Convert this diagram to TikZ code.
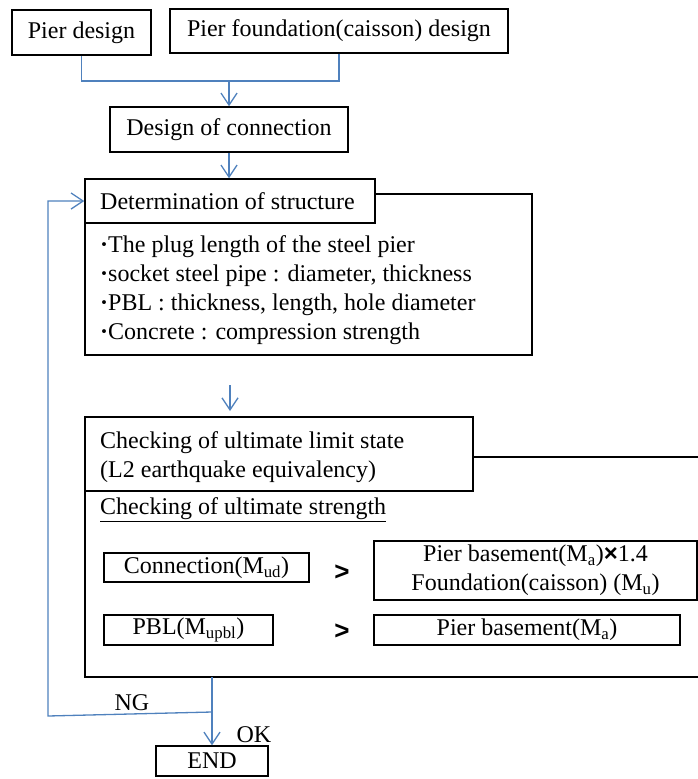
\documentclass[tikz,border=0pt]{standalone}
\usepackage{fontspec}
\setmainfont{Liberation Serif}
\newfontfamily\sansf{Liberation Sans}
\usetikzlibrary{arrows.meta}
\definecolor{flowblue}{HTML}{4F81BD}
\begin{document}
\begin{tikzpicture}[x=1pt,y=-1pt,
  every node/.style={font=\fontsize{24}{29}\selectfont},
  box/.style={draw=black,line width=1.5pt,inner sep=0pt,fill=white},
  bline/.style={draw=flowblue,line width=1.3pt},
  barrow/.style={bline,-{Straight Barb[length=12pt,width=16pt,line width=1.3pt]}},
  gtsym/.style={font=\fontsize{26}{29}\sansf\bfseries}]
\useasboundingbox (0,0) rectangle (698,779);
% top boxes
\node[box,minimum width=139pt,minimum height=45pt] (pd) at (81.5,32.5) {Pier design};
\node[box,minimum width=338pt,minimum height=44pt] (pf) at (339,31) {Pier foundation(caisson) design};
\coordinate (m) at (229,81);
\node[box,minimum width=238pt,minimum height=45pt] (dc) at (229,129.5) {Design of connection};
% structure
\node[box,minimum width=447pt,minimum height=161pt] (sout) at (308.5,274.5) {};
\node[box,minimum width=290pt,minimum height=44pt] (dsh) at (230,201) {};
\node[anchor=west,inner sep=0pt] (dsht) at (100,201) {Determination of structure};
\node[anchor=west,align=left,inner sep=0pt] (bul) at (100,290) {%
\textbf{·}The plug length of the steel pier\\
\textbf{·}socket steel pipe : diameter, thickness\\
\textbf{·}PBL : thickness, length, hole diameter\\
\textbf{·}Concrete : compression strength};
\coordinate (fa) at (230,385);
\coordinate (fb) at (230,411);
% checking
\draw[black,line width=1.5pt] (698,457) -- (473,457);
\draw[black,line width=1.5pt] (85,491) -- (85,677) -- (698,677);
\node[box,minimum width=388pt,minimum height=74pt] (ch) at (279,454) {};
\node[anchor=west,align=left,inner sep=0pt] (cht) at (100,457.5) {Checking of ultimate limit state\\(L2 earthquake equivalency)};
\node[anchor=west,inner sep=0pt] (cus) at (100,510) {\underline{Checking of ultimate strength}};
\node[box,minimum width=205pt,minimum height=29pt] (con) at (206.5,567.5) {Connection(M\textsubscript{ud})};
\node[gtsym] (gt1) at (342,573) {>};
\node[box,minimum width=323pt,minimum height=59pt,align=center] (pbx) at (535.5,570.5) {Pier basement(M\textsubscript{a}){\sansf\bfseries ×}1.4\\Foundation(caisson) (M\textsubscript{u})};
\node[box,minimum width=169pt,minimum height=30pt] (pbl) at (188.5,630) {PBL(M\textsubscript{upbl})};
\node[gtsym] (gt2) at (342,632) {>};
\node[box,minimum width=306pt,minimum height=30pt] (pba) at (527,630) {Pier basement(M\textsubscript{a})};
% end
\coordinate (cb) at (212,677);
\coordinate (nj) at (212,712);
\coordinate (nl) at (48,716);
\node[box,minimum width=112pt,minimum height=30pt] (end) at (212,761) {END};
\node (ng) at (132,703) {NG};
\node (ok) at (254,735) {OK};
% connectors
\draw[bline] (pd.south) |- (m);
\draw[bline] (pf.south) |- (m);
\draw[barrow] (m) -- (dc.north);
\draw[barrow] (dc.south) -- (dc.south |- dsh.north);
\draw[barrow] (fa) -- (fb);
\draw[barrow] (cb) -- (end.north);
\draw[barrow] (nj) -- (nl) |- (dsh.west);
\end{tikzpicture}
\end{document}
